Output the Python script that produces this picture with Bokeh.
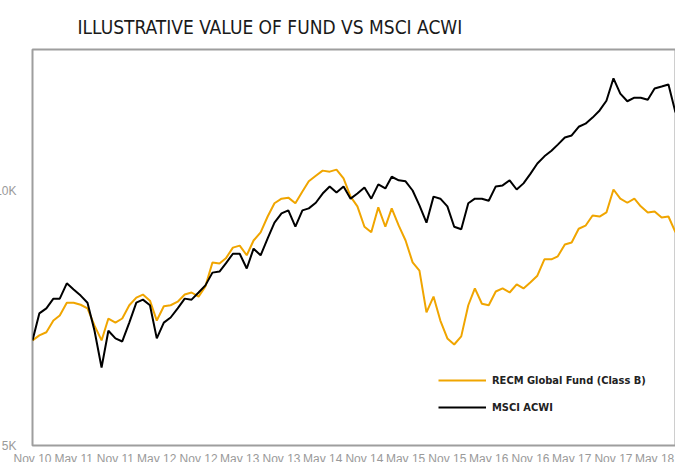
import pandas as pd
from bokeh.plotting import figure
from bokeh.models import (Range1d, FixedTicker, DatetimeTickFormatter,
                          PrintfTickFormatter, Legend)
from bokeh.embed import file_html
from bokeh.resources import INLINE

# ---- data (values in thousands) ----
months = pd.date_range("2010-11-01", periods=94, freq="MS")

recm = [7.06, 7.16, 7.22, 7.45, 7.55, 7.80, 7.80, 7.76, 7.69, 7.35,
        7.06, 7.49, 7.41, 7.49, 7.75, 7.90, 7.96, 7.84, 7.45, 7.73,
        7.75, 7.82, 7.96, 8.00, 7.92, 8.12, 8.59, 8.57, 8.67, 8.88,
        8.92, 8.73, 9.02, 9.18, 9.49, 9.75, 9.84, 9.86, 9.75, 9.98,
        10.18, 10.29, 10.39, 10.37, 10.41, 10.24, 9.88, 9.69, 9.29, 9.18,
        9.67, 9.29, 9.65, 9.31, 9.02, 8.59, 8.43, 7.61, 7.92, 7.45,
        7.10, 6.98, 7.14, 7.75, 8.08, 7.78, 7.75, 8.02, 8.08, 8.00,
        8.16, 8.08, 8.20, 8.33, 8.65, 8.65, 8.71, 8.94, 8.98, 9.25,
        9.31, 9.51, 9.49, 9.57, 10.02, 9.84, 9.76, 9.84, 9.69, 9.57,
        9.59, 9.47, 9.49, 9.18]

msci = [7.06, 7.59, 7.69, 7.88, 7.88, 8.18, 8.06, 7.94, 7.80, 7.25,
        6.53, 7.25, 7.10, 7.04, 7.41, 7.80, 7.86, 7.75, 7.10, 7.41,
        7.51, 7.69, 7.88, 7.86, 8.00, 8.14, 8.39, 8.41, 8.57, 8.76,
        8.76, 8.47, 8.86, 8.73, 9.06, 9.37, 9.55, 9.61, 9.29, 9.61,
        9.65, 9.76, 9.94, 10.08, 9.96, 10.08, 9.84, 9.94, 10.06, 9.84,
        10.12, 10.04, 10.27, 10.20, 10.18, 10.00, 9.71, 9.37, 9.88, 9.84,
        9.69, 9.29, 9.24, 9.75, 9.84, 9.84, 9.80, 10.08, 10.10, 10.20,
        10.02, 10.14, 10.33, 10.53, 10.67, 10.78, 10.90, 11.04, 11.08, 11.25,
        11.31, 11.43, 11.57, 11.76, 12.20, 11.90, 11.75, 11.82, 11.82, 11.78,
        12.00, 12.04, 12.08, 11.53]

tick_dates = pd.date_range("2010-11-01", "2018-05-01", freq="6MS")
y_ticks = [5, 10]

series_names = ["RECM Global Fund (Class B)", "MSCI ACWI"]
title_text = "ILLUSTRATIVE VALUE OF FUND VS MSCI ACWI"

COND = "DejaVu Sans Condensed"
REGULAR = "Liberation Sans"

p = figure(frame_width=643, frame_height=396,
           x_axis_type="datetime",
           x_range=Range1d(months[0], months[-1]),
           y_range=Range1d(5, 12.765),
           output_backend="svg", toolbar_location=None,
           min_border_left=38, min_border_right=2,
           min_border_top=49, min_border_bottom=30,
           background_fill_color="white", border_fill_color="white")
p.styles = {"margin-left": "-8px"}

p.title.text = title_text
p.title.align = "left"
p.title.offset = 45
p.title.text_font = COND
p.title.text_font_size = "19px"
p.title.text_font_style = "normal"
p.title.text_color = "#1a1a1a"
p.title.standoff = 24

p.xgrid.visible = False
p.ygrid.visible = False
p.outline_line_color = "#9e9e9e"
p.outline_line_width = 2

for ax in (p.xaxis[0], p.yaxis[0]):
    ax.axis_line_color = None
    ax.major_tick_line_color = None
    ax.minor_tick_line_color = None
    ax.major_tick_out = 0
    ax.major_tick_in = 0
    ax.minor_tick_out = 0
    ax.major_label_text_color = "#9a9a9a"
    ax.major_label_text_font = REGULAR

p.xaxis.ticker = FixedTicker(ticks=[d.timestamp() * 1000 for d in tick_dates])
p.xaxis.formatter = DatetimeTickFormatter(months="%b %y", days="%b %y",
                                          years="%b %y")
p.xaxis.major_label_text_font_size = "12px"
p.xaxis.major_label_standoff = 6

p.yaxis.ticker = FixedTicker(ticks=y_ticks)
p.yaxis.formatter = PrintfTickFormatter(format="%dK")
p.yaxis.major_label_text_font_size = "12px"
p.yaxis.major_label_standoff = 16

r1 = p.line(months, recm, line_color="#F0A500", line_width=2)
r2 = p.line(months, msci, line_color="#000000", line_width=2)

legend = Legend(items=[(series_names[0], [r1]), (series_names[1], [r2])],
                location=(406, 28), glyph_width=48, glyph_height=20,
                label_height=20, spacing=7, padding=0, margin=0,
                label_standoff=6, border_line_color=None,
                background_fill_alpha=0,
                label_text_font=COND, label_text_font_size="11px",
                label_text_font_style="bold", label_text_color="#222222")
p.add_layout(legend)

html = file_html(p, INLINE)
html = html.replace("<head>", "<head><style>html,body{overflow:hidden;}</style>", 1)
open("out.html", "w").write(html)
